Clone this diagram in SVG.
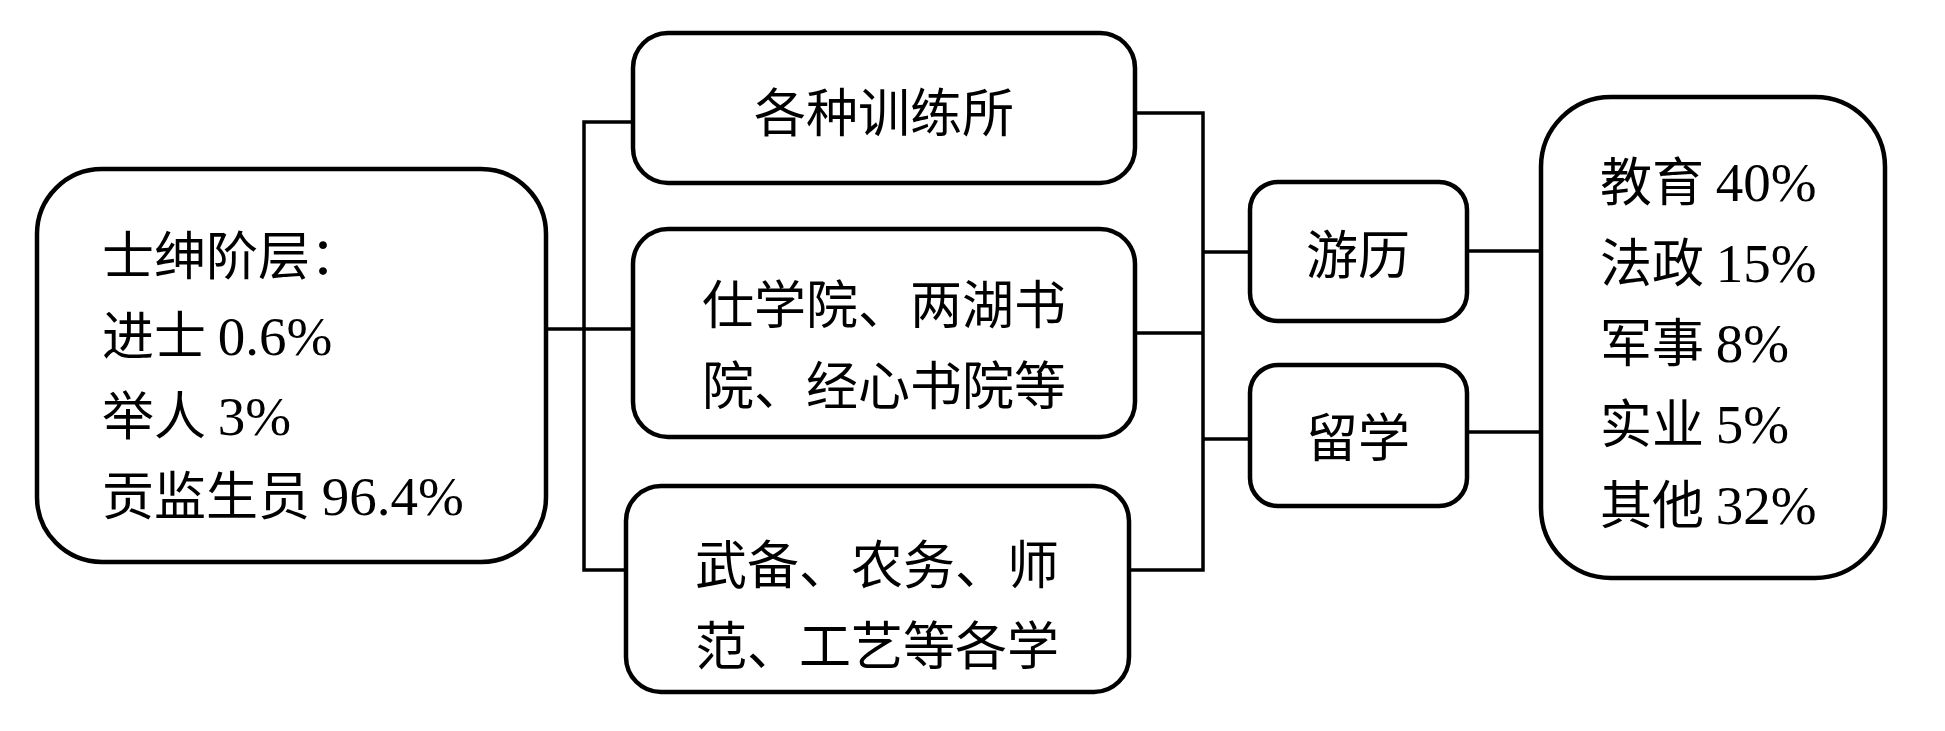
<svg xmlns="http://www.w3.org/2000/svg" width="1945" height="731" viewBox="0 0 1945 731">
<style>
.box{fill:#fff;stroke:#000;stroke-width:4.5}
.c{fill:none;stroke:#000;stroke-width:3.5}
text{font-family:"Noto Sans CJK SC","Liberation Serif",serif;font-size:52px;fill:#000}
.l{font-family:"Liberation Serif","Noto Sans CJK SC",serif;font-size:55px}
.m{text-anchor:middle}
</style>
<rect width="1945" height="731" fill="#fff"/>
<g id="connectors">
<polyline class="c" points="546,329 584,329"/>
<polyline class="c" points="633,122 584,122 584,570 626,570"/>
<polyline class="c" points="584,329 633,329"/>
<polyline class="c" points="1135,113 1203,113 1203,570 1129,570"/>
<polyline class="c" points="1135,333 1203,333"/>
<polyline class="c" points="1203,252 1250,252"/>
<polyline class="c" points="1203,439 1250,439"/>
<polyline class="c" points="1467,251 1541,251"/>
<polyline class="c" points="1467,432 1541,432"/>
</g>
<g id="gentry">
<rect class="box" x="37" y="169" width="509" height="393" rx="65" ry="65"/>
<text x="102" y="275">士绅阶层：</text>
<text x="102" y="355">进士 <tspan class="l">0.6%</tspan></text>
<text x="102" y="435">举人 <tspan class="l">3%</tspan></text>
<text x="102" y="515">贡监生员 <tspan class="l">96.4%</tspan></text>
</g>
<g id="training">
<rect class="box" x="633" y="33" width="502" height="150" rx="35" ry="35"/>
<text class="m" x="884" y="132">各种训练所</text>
</g>
<g id="academies">
<rect class="box" x="633" y="229" width="502" height="208" rx="35" ry="35"/>
<text class="m" x="884" y="324">仕学院、两湖书</text>
<text class="m" x="884" y="405">院、经心书院等</text>
</g>
<g id="schools">
<rect class="box" x="626" y="486" width="503" height="206" rx="35" ry="35"/>
<text class="m" x="877" y="584">武备、农务、师</text>
<text class="m" x="877" y="665">范、工艺等各学</text>
</g>
<g id="youli">
<rect class="box" x="1250" y="182" width="217" height="139" rx="28" ry="28"/>
<text class="m" x="1358" y="274">游历</text>
</g>
<g id="liuxue">
<rect class="box" x="1250" y="365" width="217" height="141" rx="28" ry="28"/>
<text class="m" x="1358" y="457">留学</text>
</g>
<g id="fields">
<rect class="box" x="1541" y="97" width="344" height="481" rx="70" ry="70"/>
<text x="1600" y="201">教育 <tspan class="l">40%</tspan></text>
<text x="1600" y="282">法政 <tspan class="l">15%</tspan></text>
<text x="1600" y="362">军事 <tspan class="l">8%</tspan></text>
<text x="1600" y="443">实业 <tspan class="l">5%</tspan></text>
<text x="1600" y="524">其他 <tspan class="l">32%</tspan></text>
</g>
</svg>
